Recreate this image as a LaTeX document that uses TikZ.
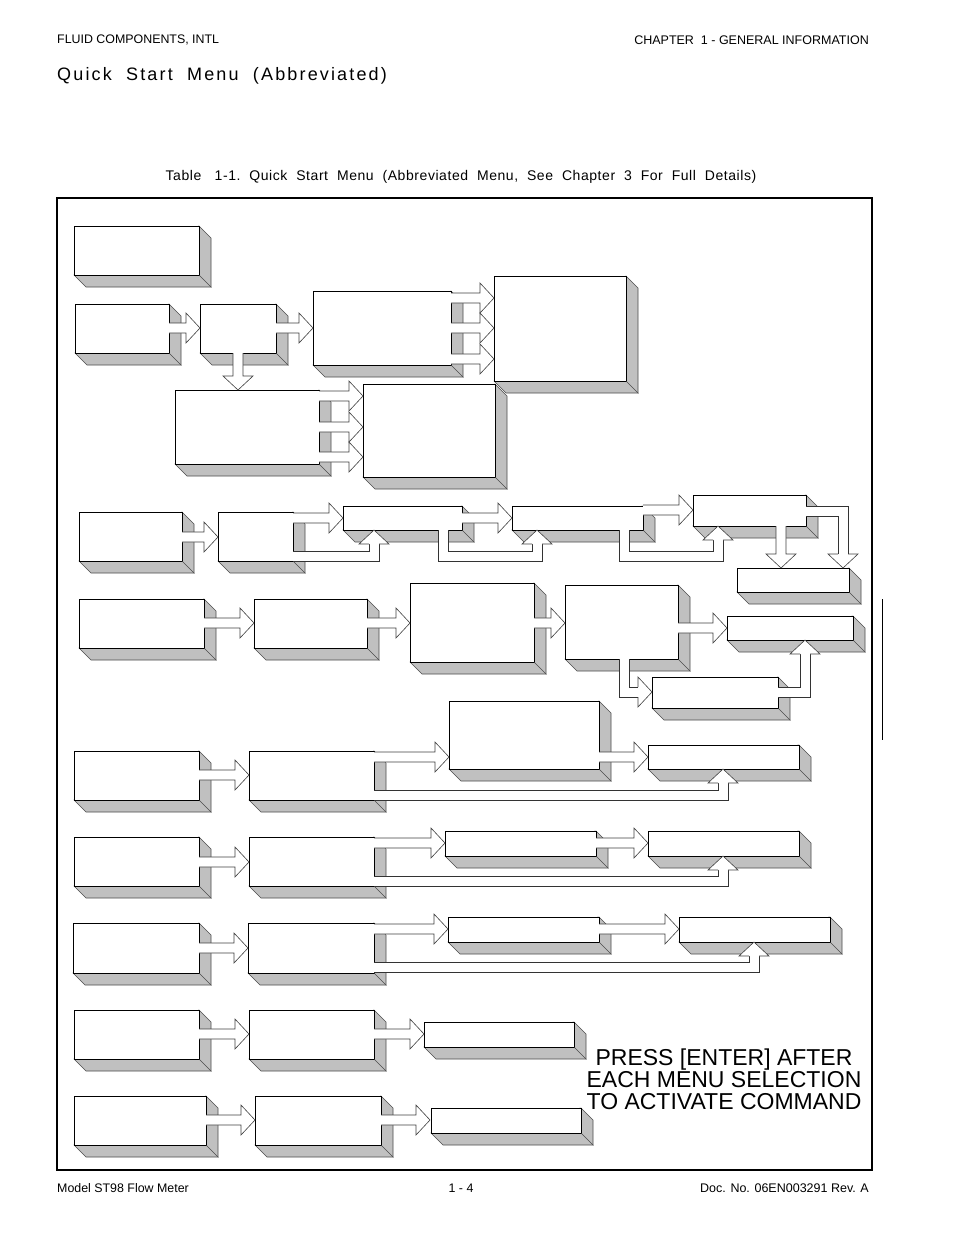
\documentclass[tikz,border=0pt]{standalone}
\usepackage{fontspec}
\setmainfont{Liberation Sans}
\usetikzlibrary{fit}
\definecolor{sg}{RGB}{192,192,192}
\tikzset{
  face/.style={draw,fill=white,line width=0.9pt,inner sep=0pt},
  side/.style={fill=sg,draw=black!70,line width=0.6pt},
  arr/.style={fill=white,draw=black!75,line width=0.6pt,line join=miter},
  txt/.style={inner sep=0pt,anchor=west}
}
\newcommand\qbx[5]{%
  \draw[side] (#4,#3) -- (#4+12,#3+12) -- (#4+12,#5+12) -- (#2+12,#5+12) -- (#2,#5) -- cycle;
  \node[face,fit={(#2,#3)(#4,#5)}] (#1) {};
  \draw[black!70,line width=0.6pt] (#1.south east) -- ++(12,12);}
\newcommand\qar[3]{\draw[arr] (#1,#3-5) -- (#2-14,#3-5) -- (#2-14,#3-15) -- (#2,#3) -- (#2-14,#3+15) -- (#2-14,#3+5) -- (#1,#3+5);}
\newcommand\qad[3]{\draw[arr] (#1-5,#2) -- (#1-5,#3-14) -- (#1-15,#3-14) -- (#1,#3) -- (#1+15,#3-14) -- (#1+5,#3-14) -- (#1+5,#2);}
\newcommand\quh[2]{\draw[arr] (#1-5,#2+14) -- (#1-15,#2+14) -- (#1,#2) -- (#1+15,#2+14) -- (#1+5,#2+14);}
\newcommand\qdh[2]{\draw[arr] (#1-5,#2-14) -- (#1-15,#2-14) -- (#1,#2) -- (#1+15,#2-14) -- (#1+5,#2-14);}
\newcommand\qrh[2]{\draw[arr] (#1-14,#2-5) -- (#1-14,#2-15) -- (#1,#2) -- (#1-14,#2+15) -- (#1-14,#2+5);}
\newcommand\qelb[1]{\draw[line width=11pt,line join=miter,black!80] #1; \draw[white,line width=9pt,line join=miter] #1;}
\begin{document}
\begin{tikzpicture}[x=1pt,y=-1pt]
\useasboundingbox (0,0) rectangle (954,1235);
% header / footer
\node[txt,font=\fontsize{12.4}{13}\selectfont] (h1) at (57,40) {FLUID COMPONENTS, INTL};
\node[inner sep=0pt,anchor=east,font=\fontsize{12.5}{13}\selectfont] (h2) at (869,40) {CHAPTER\ \ 1 - GENERAL INFORMATION};
\node[txt,font=\fontsize{18}{19}\selectfont\addfontfeature{LetterSpace=12}] (title) at (57,76) {Quick\ \ Start\ \ Menu\ \ (Abbreviated)};
\node[inner sep=0pt,font=\fontsize{14}{15}\selectfont\addfontfeature{LetterSpace=4}] (cap) at (461,177) {Table\ \ \ 1-1.\ \ Quick\ \ Start\ \ Menu\ \ (Abbreviated\ \ Menu,\ \ See\ \ Chapter\ \ 3\ \ For\ \ Full\ \ Details)};
\node[txt,font=\fontsize{12.4}{13}\selectfont] (f1) at (57,1188) {Model ST98 Flow Meter};
\node[inner sep=0pt,font=\fontsize{12.4}{13}\selectfont] (f2) at (461,1188) {1 - 4};
\node[inner sep=0pt,anchor=east,font=\fontsize{12.5}{13}\selectfont] (f3) at (869,1188) {Doc. No. 06EN003291 Rev. A};
\node[draw,line width=1.2pt,inner sep=0pt,fit={(57,198)(872,1170)}] (frame) {};
\draw[line width=1pt] (882,599) -- (882,740);
% boxes
\qbx{B1}{74}{226}{199}{275}
\qbx{B2}{75}{304}{169}{353}
\qbx{B3}{200}{304}{276}{353}
\qbx{B5}{494}{276}{626}{381}
\qbx{B4}{313}{291}{451}{365}
\qbx{B7}{363}{384}{495}{477}
\qbx{B6}{175}{390}{319}{464}
\qbx{B8}{79}{512}{182}{561}
\qbx{B9}{218}{512}{293}{561}
\qbx{B10}{343}{506}{462}{530}
\qbx{B11}{512}{506}{643}{530}
\qbx{B12}{693}{495}{806}{526}
\qbx{B13}{737}{568}{849}{592}
\qbx{B14}{79}{599}{204}{648}
\qbx{B15}{254}{599}{367}{648}
\qbx{B16}{410}{583}{534}{662}
\qbx{B17}{565}{585}{678}{659}
\qbx{B18}{727}{616}{853}{640}
\qbx{B19}{652}{677}{778}{708}
\qbx{B20}{449}{701}{599}{769}
\qbx{B21}{74}{751}{199}{800}
\qbx{B22}{249}{751}{374}{800}
\qbx{B23}{648}{745}{799}{769}
\qbx{B24}{74}{837}{199}{886}
\qbx{B25}{249}{837}{374}{886}
\qbx{B26}{445}{831}{596}{856}
\qbx{B27}{648}{831}{799}{856}
\qbx{B28}{73}{923}{199}{973}
\qbx{B29}{248}{923}{374}{973}
\qbx{B30}{448}{917}{599}{942}
\qbx{B31}{679}{917}{830}{942}
\qbx{B32}{74}{1010}{199}{1059}
\qbx{B33}{249}{1010}{374}{1059}
\qbx{B34}{424}{1022}{574}{1047}
\qbx{B35}{74}{1096}{206}{1145}
\qbx{B36}{255}{1096}{381}{1145}
\qbx{B37}{431}{1108}{581}{1133}
% arrows row 1-2
\qar{169}{200}{328}
\qar{276}{313}{328}
\qar{451}{494}{298}
\qar{451}{494}{328}
\qar{451}{494}{359}
\qad{238}{353}{390}
\qar{319}{363}{396}
\qar{319}{363}{427}
\qar{319}{363}{457}
% row 3
\qar{182}{218}{537}
\qar{293}{343}{518}
\qar{462}{512}{518}
\qar{643}{693}{510}
\qelb{(293,556) -- (374,556) -- (374,544)} \quh{374}{530}
\qelb{(443,530) -- (443,556) -- (537,556) -- (537,544)} \quh{537}{530}
\qelb{(624,530) -- (624,556) -- (718,556) -- (718,540)} \quh{718}{526}
\qad{781}{526}{568}
\qelb{(806,511) -- (843,511) -- (843,554)} \qdh{843}{568}
% row 4
\qar{204}{254}{623}
\qar{367}{410}{623}
\qar{534}{565}{623}
\qar{678}{727}{628}
\qelb{(624,659) -- (624,692) -- (638,692)} \qrh{652}{692}
\qelb{(778,692) -- (805,692) -- (805,654)} \quh{805}{640}
% row 5
\qar{199}{249}{775}
\qar{374}{449}{757}
\qar{599}{648}{757}
\qelb{(374,795) -- (723,795) -- (723,783)} \quh{723}{769}
% row 6
\qar{199}{249}{862}
\qar{374}{445}{843}
\qar{596}{648}{843}
\qelb{(374,881) -- (723,881) -- (723,870)} \quh{723}{856}
% row 7
\qar{199}{248}{948}
\qar{374}{448}{929}
\qar{599}{679}{929}
\qelb{(374,967) -- (754,967) -- (754,956)} \quh{754}{942}
% rows 8-9
\qar{199}{249}{1034}
\qar{374}{424}{1034}
\qar{206}{255}{1120}
\qar{381}{430}{1120}
% note
\node[inner sep=0pt,align=center,font=\fontsize{23}{22}\selectfont] (note) at (724,1079) {PRESS [ENTER] AFTER\\EACH MENU SELECTION\\TO ACTIVATE COMMAND};
\end{tikzpicture}
\end{document}
